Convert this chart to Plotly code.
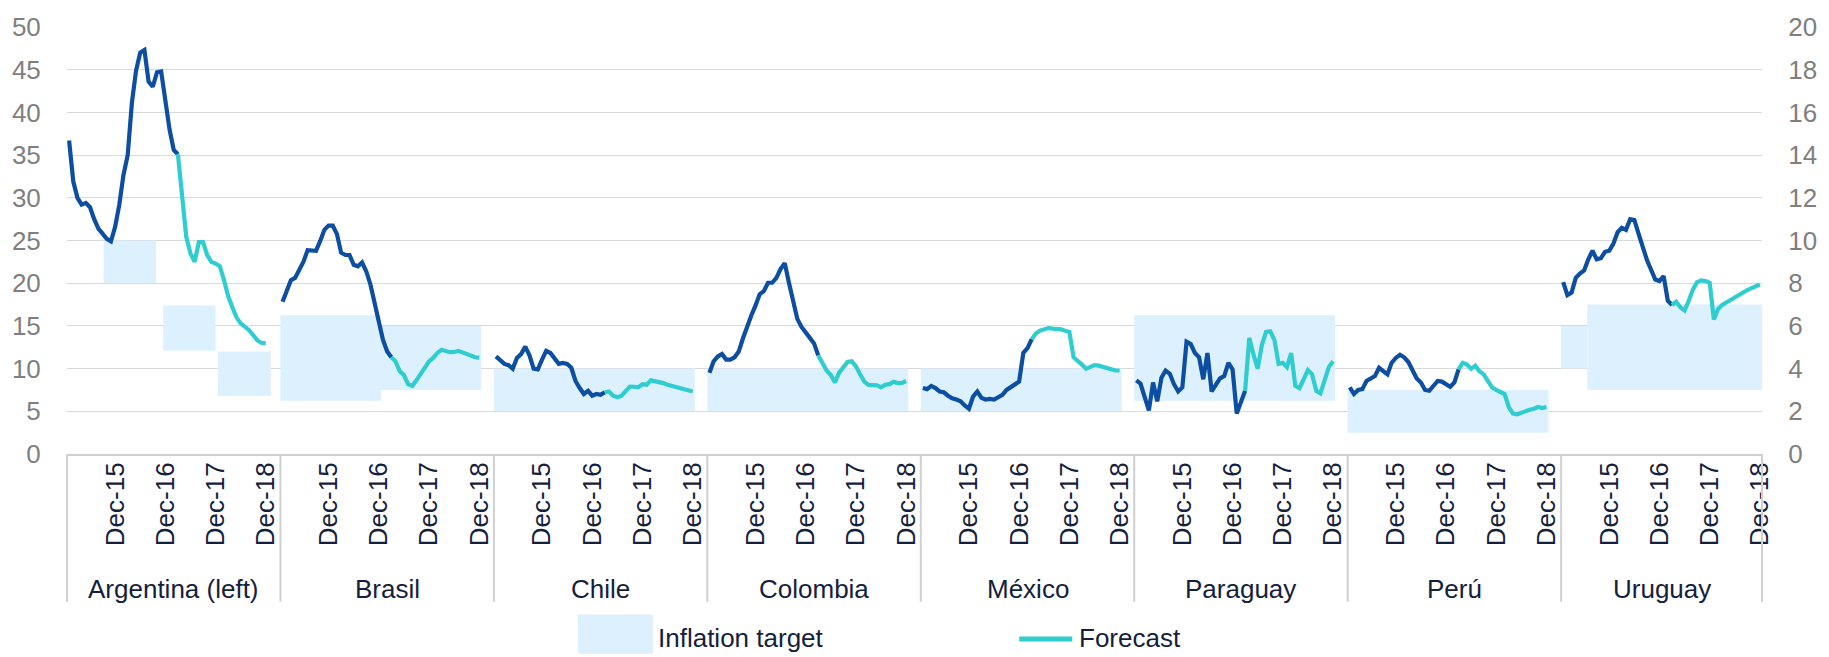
import plotly.graph_objects as go

# ---------------- data ----------------
COUNTRIES = ["Argentina (left)", "Brasil", "Chile", "Colombia", "México",
             "Paraguay", "Perú", "Uruguay"]
YEAR_LABELS = ["Dec-15", "Dec-16", "Dec-17", "Dec-18"]
DEC_MONTH_INDEX = [11, 23, 35, 47]          # months counted from Jan-2015
N_MONTHS = 48                                # Jan-2015 .. Dec-2018
GAP_MONTHS = 3                               # blank slots between countries
N_ACTUAL = 27                                # observed data up to Mar-2017

argentina = [36.7, 31.9, 30.0, 29.2, 29.4, 28.9, 27.5, 26.4, 25.8, 25.2,
             24.9, 26.6, 29.2, 32.7, 35.0, 41.1, 44.9, 47.0, 47.3, 43.6,
             43.0, 44.7, 44.8, 41.5, 38.0, 35.6, 35.1, 29.6, 25.4, 23.5,
             22.5, 24.8, 24.8, 23.3, 22.5, 22.3, 22.0, 20.4, 18.5, 17.2,
             16.0, 15.3, 14.9, 14.5, 13.9, 13.3, 13.0, 13.0]
brasil = [7.13, 7.71, 8.14, 8.25, 8.63, 9.01, 9.55, 9.55, 9.52, 9.98,
          10.5, 10.7, 10.7, 10.3, 9.43, 9.32, 9.32, 8.86, 8.79, 8.97,
          8.56, 7.94, 7.1, 6.26, 5.34, 4.8, 4.53, 4.34, 3.88, 3.7,
          3.27, 3.19, 3.45, 3.73, 4.06, 4.34, 4.5, 4.73, 4.88, 4.8,
          4.77, 4.78, 4.83, 4.76, 4.68, 4.59, 4.53, 4.51]
chile = [4.57, 4.42, 4.22, 4.16, 3.99, 4.5, 4.68, 5.03, 4.62, 4.0,
         3.96, 4.42, 4.83, 4.73, 4.47, 4.22, 4.27, 4.22, 4.04, 3.42,
         3.09, 2.81, 2.96, 2.73, 2.81, 2.77, 2.89, 2.93, 2.73, 2.66,
         2.73, 2.96, 3.16, 3.15, 3.12, 3.27, 3.24, 3.45, 3.42, 3.38,
         3.32, 3.24, 3.19, 3.12, 3.06, 3.0, 2.96, 2.93]
colombia = [3.81, 4.34, 4.57, 4.68, 4.42, 4.42, 4.53, 4.8, 5.41, 6.03,
            6.49, 6.95, 7.48, 7.63, 8.02, 8.02, 8.25, 8.66, 8.94, 8.02,
            7.1, 6.33, 5.95, 5.72, 5.44, 5.18, 4.62, 4.27, 3.91, 3.7,
            3.35, 3.81, 4.04, 4.31, 4.34, 4.11, 3.73, 3.39, 3.24, 3.24,
            3.22, 3.12, 3.24, 3.27, 3.38, 3.32, 3.33, 3.42]
mexico = [3.09, 3.04, 3.19, 3.09, 2.93, 2.89, 2.73, 2.61, 2.55, 2.47,
          2.27, 2.12, 2.69, 2.93, 2.63, 2.55, 2.58, 2.55, 2.66, 2.77,
          3.0, 3.12, 3.27, 3.39, 4.73, 4.96, 5.38, 5.64, 5.78, 5.86,
          5.9, 5.87, 5.87, 5.84, 5.77, 5.72, 4.53, 4.39, 4.19, 3.99,
          4.08, 4.16, 4.14, 4.08, 3.99, 3.93, 3.91, 3.91]
paraguay = [3.45, 3.3, 2.66, 2.04, 3.35, 2.47, 3.57, 3.91, 3.76, 3.27,
            2.93, 3.12, 5.26, 5.15, 4.73, 4.53, 3.5, 4.73, 2.93, 3.27,
            3.54, 3.65, 4.27, 3.96, 1.89, 2.43, 2.96, 5.44, 4.65, 4.0,
            5.1, 5.72, 5.75, 5.34, 4.22, 4.27, 4.07, 4.73, 3.19, 3.09,
            3.5, 3.93, 3.73, 2.96, 2.84, 3.5, 4.07, 4.34]
peru = [3.12, 2.81, 3.0, 3.04, 3.42, 3.54, 3.65, 4.04, 3.91, 3.73,
        4.27, 4.5, 4.65, 4.53, 4.31, 3.88, 3.54, 3.35, 3.0, 2.96,
        3.19, 3.42, 3.39, 3.27, 3.15, 3.35, 3.96, 4.27, 4.19, 3.99,
        4.14, 3.88, 3.73, 3.42, 3.12, 3.0, 2.93, 2.81, 2.2, 1.89,
        1.86, 1.94, 2.01, 2.07, 2.12, 2.2, 2.15, 2.2]
uruguay = [8.05, 7.44, 7.56, 8.25, 8.45, 8.6, 9.12, 9.52, 9.12, 9.17,
           9.47, 9.52, 9.86, 10.39, 10.59, 10.5, 11.0, 10.96, 10.32, 9.63,
           9.09, 8.63, 8.17, 8.1, 8.33, 7.18, 6.98, 7.13, 6.87, 6.72,
           7.18, 7.71, 8.05, 8.13, 8.1, 8.02, 6.3, 6.79, 6.98, 7.1,
           7.22, 7.33, 7.48, 7.6, 7.68, 7.77, 7.87, 7.94]
SERIES = [argentina, brasil, chile, colombia, mexico, paraguay, peru, uruguay]

# inflation target ranges: country index, start month, end month, low, high
target_country = [0, 0, 0, 1, 1, 2, 3, 4, 5, 6, 7, 7]
target_start = [8.25, 22.5, 35.6, -0.5, 23.5, -0.5, -0.5, -0.5, -0.5, -0.5, -0.5, 5.75]
target_end = [20.75, 35.0, 48.2, 23.5, 47.5, 47.5, 47.5, 47.5, 47.5, 47.5, 5.75, 47.5]
target_low = [20.0, 12.1, 6.8, 2.5, 3.0, 2.0, 2.0, 2.0, 2.5, 1.0, 4.0, 3.0]
target_high = [25.0, 17.4, 12.0, 6.5, 6.0, 4.0, 4.0, 4.0, 6.5, 3.0, 6.0, 7.0]

# ---------------- styles ----------------
DARK = "#0b4ea2"
CYAN = "#2fcdd0"
TARGET_FILL = "#ddf0fd"
GRID = "#d9d9d9"
AXIS_LINE = "#d0d0d0"
NAVY = "#14213d"
GRAY = "#7f7f7f"
FONT = "Liberation Sans, Arial, sans-serif"

SLOTS = N_MONTHS + GAP_MONTHS
X_MIN = -0.5
X_MAX = (len(COUNTRIES) - 1) * SLOTS + N_MONTHS - 0.5


def slot(ci, m):
    return ci * SLOTS + m


def xpaper(s):
    return (s - X_MIN) / (X_MAX - X_MIN)


fig = go.Figure()

# inflation-target ranges as floating bars (left axis for Argentina, right for the rest)
for use_left in (True, False):
    idx = [k for k, c in enumerate(target_country) if (c == 0) == use_left]
    fig.add_trace(go.Bar(
        x=[slot(target_country[k], (target_start[k] + target_end[k]) / 2) for k in idx],
        width=[target_end[k] - target_start[k] for k in idx],
        base=[target_low[k] for k in idx],
        y=[target_high[k] - target_low[k] for k in idx],
        yaxis="y" if use_left else "y2",
        marker=dict(color=TARGET_FILL, line=dict(width=0)),
        showlegend=False, name="Inflation target", hoverinfo="skip"))

for ci, vals in enumerate(SERIES):
    yax = "y" if ci == 0 else "y2"
    xs = [slot(ci, m) for m in range(N_MONTHS)]
    fig.add_trace(go.Scatter(
        x=xs[:N_ACTUAL], y=vals[:N_ACTUAL], mode="lines", yaxis=yax,
        line=dict(color=DARK, width=4.2), showlegend=False,
        name=COUNTRIES[ci]))
    fig.add_trace(go.Scatter(
        x=xs[N_ACTUAL - 1:], y=vals[N_ACTUAL - 1:], mode="lines", yaxis=yax,
        line=dict(color=CYAN, width=4.2), showlegend=False,
        name=COUNTRIES[ci] + " forecast"))

shapes = []
# category dividers below the axis
Y_DIV_BOTTOM = -0.346
div_pos = [slot(ci, -0.5) for ci in range(len(COUNTRIES))] + [X_MAX]
for s in div_pos:
    shapes.append(dict(type="line", xref="paper", yref="paper",
                       x0=xpaper(s), x1=xpaper(s), y0=0, y1=Y_DIV_BOTTOM,
                       line=dict(color=AXIS_LINE, width=2)))

# custom legend
shapes.append(dict(type="rect", xref="paper", yref="paper",
                   x0=0.3015, x1=0.3456, y0=-0.468, y1=-0.3757,
                   fillcolor=TARGET_FILL, line=dict(width=0)))
shapes.append(dict(type="line", xref="paper", yref="paper",
                   x0=0.5618, x1=0.5931, y0=-0.433, y1=-0.433,
                   line=dict(color=CYAN, width=5)))

annotations = []
for ci, name in enumerate(COUNTRIES):
    first = slot(ci, -0.5)
    last = slot(ci, N_MONTHS - 0.5 + (GAP_MONTHS if ci < len(COUNTRIES) - 1 else 0))
    annotations.append(dict(
        x=(first + last) / 2, y=-0.316, xref="x", yref="paper",
        text=name, showarrow=False, xanchor="center", yanchor="middle",
        font=dict(size=26, color=NAVY, family=FONT)))
annotations.append(dict(x=0.3475, y=-0.431, xref="paper", yref="paper",
                        text="Inflation target", showarrow=False,
                        xanchor="left", yanchor="middle",
                        font=dict(size=26, color=NAVY, family=FONT)))
annotations.append(dict(x=0.5959, y=-0.431, xref="paper", yref="paper",
                        text="Forecast", showarrow=False,
                        xanchor="left", yanchor="middle",
                        font=dict(size=26, color=NAVY, family=FONT)))

tickvals = [slot(ci, m) for ci in range(len(COUNTRIES)) for m in DEC_MONTH_INDEX]
ticktext = [lab for ci in range(len(COUNTRIES)) for lab in YEAR_LABELS]

fig.update_layout(
    width=1829, height=657,
    margin=dict(l=63, r=65, t=19, b=203),
    paper_bgcolor="white", plot_bgcolor="white",
    font=dict(family=FONT, size=26, color=NAVY),
    shapes=shapes, annotations=annotations, showlegend=False,
    barmode="overlay",
    xaxis=dict(range=[X_MIN, X_MAX], showgrid=False, zeroline=False,
               showline=True, linecolor=AXIS_LINE, linewidth=2,
               tickmode="array", tickvals=tickvals, ticktext=ticktext,
               tickangle=-90, ticks="", ticklabelstandoff=-4,
               tickfont=dict(size=26, color=NAVY, family=FONT)),
    yaxis=dict(range=[0, 50], dtick=5, showgrid=True, gridcolor=GRID,
               gridwidth=1, zeroline=False, showline=False,
               ticks="outside", ticklen=20, tickcolor="rgba(0,0,0,0)",
               tickfont=dict(size=26, color=GRAY, family=FONT)),
    yaxis2=dict(range=[0, 20], dtick=2, overlaying="y", side="right",
                showgrid=False, zeroline=False, showline=False,
                ticks="outside", ticklen=20, tickcolor="rgba(0,0,0,0)",
                tickfont=dict(size=26, color=GRAY, family=FONT)),
)

fig.write_html("out.html", config={"displayModeBar": False},
               post_script="document.body.style.margin='0';")
